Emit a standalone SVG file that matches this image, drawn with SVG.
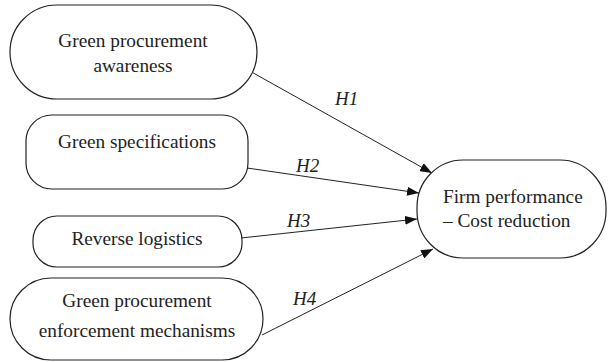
<svg xmlns="http://www.w3.org/2000/svg" width="608" height="362" viewBox="0 0 608 362">
<defs>
<style>
.n{fill:#fff;stroke:#222;stroke-width:1.2}
.t{font-family:"Liberation Serif","Times New Roman",serif;font-size:19.3px;fill:#222;text-anchor:middle}
.h{font-family:"Liberation Serif","Times New Roman",serif;font-size:19px;font-style:italic;fill:#222}
.c{stroke:#222;stroke-width:1;fill:none;marker-end:url(#ah)}
</style>
<marker id="ah" viewBox="0 0 12 9" refX="12" refY="4.5" markerWidth="12" markerHeight="9" markerUnits="userSpaceOnUse" orient="auto">
<path d="M0,0 L12,4.5 L0,9 Z" fill="#111"/>
</marker>
</defs>
<rect width="608" height="362" fill="#fff"/>
<g id="connectors">
<line class="c" x1="248" y1="70" x2="432" y2="173"/>
<line class="c" x1="247" y1="168" x2="419" y2="193"/>
<line class="c" x1="241" y1="238" x2="417" y2="219"/>
<line class="c" x1="262" y1="335" x2="433" y2="249"/>
<text class="h" x="335" y="105">H1</text>
<text class="h" x="296" y="172">H2</text>
<text class="h" x="287" y="227">H3</text>
<text class="h" x="293" y="305">H4</text>
</g>
<g id="n1">
<rect class="n" x="10" y="5" width="247" height="94" rx="47" ry="47"/>
<text class="t" x="133" y="47">Green procurement</text>
<text class="t" x="133" y="72">awareness</text>
</g>
<g id="n2">
<rect class="n" x="26" y="115" width="222" height="74" rx="26" ry="26"/>
<text class="t" x="137" y="148">Green specifications</text>
</g>
<g id="n3">
<rect class="n" x="33" y="216" width="209" height="51" rx="24" ry="24"/>
<text class="t" x="137" y="245">Reverse logistics</text>
</g>
<g id="n4">
<rect class="n" x="10" y="278" width="253" height="82" rx="41" ry="41"/>
<text class="t" x="137" y="307">Green procurement</text>
<text class="t" x="137" y="337">enforcement mechanisms</text>
</g>
<g id="target">
<rect class="n" x="417" y="160" width="189" height="98" rx="46" ry="47"/>
<text class="t" x="443" y="203" style="text-anchor:start">Firm performance</text>
<text class="t" x="443" y="227" style="text-anchor:start">– Cost reduction</text>
</g>
</svg>
